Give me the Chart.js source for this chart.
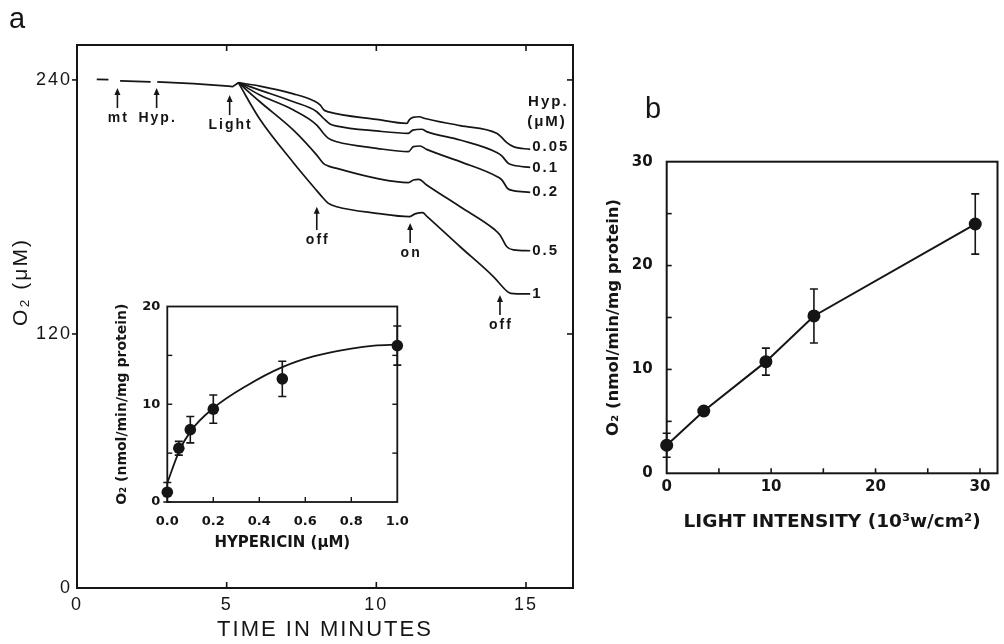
<!DOCTYPE html>
<html><head><meta charset="utf-8">
<script src="https://cdn.jsdelivr.net/npm/chart.js@4/dist/chart.umd.min.js"></script>
<style>
html,body{margin:0;padding:0;background:#fff;}
#wrap{position:relative;width:1004px;height:644px;overflow:hidden;background:#fff;}
canvas{position:absolute;left:0;top:0;}
</style></head><body>
<div id="wrap">
<canvas id="main" width="1004" height="644"></canvas>
<canvas id="inset" width="1004" height="644"></canvas>
<canvas id="light" width="1004" height="644"></canvas>
</div>
<script>
// ---------- Panel a: O2 traces (time in min, O2 in uM) ----------
const baseTime = [0.66, 1.05, 1.24, 1.44, 2.46, 2.57, 2.68, 3.89, 5.06, 5.20, 5.39];
const baseO2   = [240.3, 240.1, null, 239.6, 239.1, null, 239.1, 238.3, 237.1, 236.8, 238.7];

const t005Time = [5.39, 6.11, 7.23, 7.90, 8.12, 8.25, 8.40, 10.01, 11.02, 11.10, 11.22, 11.44, 11.59, 12.80, 14.02, 14.16, 14.36, 14.58, 15.14];
const t005O2   = [238.7, 237.1, 233.4, 230.2, 228.2, 225.8, 224.9, 221.4, 219.5, 221.1, 222.3, 222.6, 221.9, 218.4, 214.8, 213.2, 210.4, 208.5, 207.2];

const t01Time = [5.39, 6.11, 7.23, 8.01, 8.23, 8.45, 8.68, 10.01, 11.07, 11.22, 11.52, 11.68, 12.80, 14.04, 14.19, 14.41, 14.58, 15.14];
const t01O2   = [238.7, 235.2, 229.7, 225.0, 221.9, 219.2, 218.2, 215.9, 214.8, 216.3, 216.7, 215.6, 211.6, 205.6, 204.1, 200.6, 199.7, 198.7];

const t02Time = [5.39, 6.11, 7.23, 8.01, 8.23, 8.40, 8.68, 10.01, 11.07, 11.24, 11.46, 11.68, 12.80, 14.04, 14.20, 14.38, 14.58, 15.14];
const t02O2   = [238.7, 232.9, 225.8, 218.7, 214.8, 212.4, 210.8, 207.7, 206.1, 208.5, 208.8, 207.2, 201.4, 194.3, 192.7, 188.8, 187.7, 186.9];

const t05Time = [5.39, 6.11, 7.23, 8.01, 8.23, 8.40, 8.68, 10.01, 11.07, 11.24, 11.42, 11.68, 12.80, 13.97, 14.13, 14.36, 14.58, 15.14];
const t05O2   = [238.7, 229.7, 216.3, 204.5, 200.6, 199.3, 198.2, 193.5, 191.5, 192.7, 193.0, 190.4, 180.1, 169.1, 166.8, 161.2, 159.7, 159.3];

const t1Time = [5.39, 6.11, 7.23, 8.01, 8.23, 8.40, 8.68, 10.01, 11.10, 11.29, 11.55, 11.68, 12.80, 13.91, 14.38, 14.49, 15.14];
const t1O2   = [238.7, 221.4, 200.9, 187.7, 184.1, 181.7, 180.1, 177.0, 175.4, 176.7, 177.3, 175.7, 161.2, 147.1, 140.0, 139.2, 138.9];

const traceLabels = ['0.05', '0.1', '0.2', '0.5', '1'];

// event arrows
const annotText   = ['mt', 'Hyp.', 'Light', 'off', 'on', 'off'];
const annotTime   = [1.35, 2.66, 5.10, 8.01, 11.13, 14.13];
const annotTop    = [236.2, 236.2, 232.9, 180.1, 172.4, 138.4];
const annotBottom = [226.7, 226.7, 223.4, 169.1, 163.0, 129.0];

const mainTimeTicks = [0, 5, 10, 15];
const mainO2Ticks   = [0, 120, 240];

// ---------- Inset: rate vs hypericin ----------
const hypConc = [0, 0.05, 0.1, 0.2, 0.5, 1.0];
const hypRate = [1.0, 5.5, 7.4, 9.5, 12.6, 16.0];
const hypErr  = [1.0, 0.7, 1.35, 1.45, 1.8, 2.0];
const hypFitConc = [0, 0.05, 0.1, 0.2, 0.345, 0.5, 0.635, 0.8, 0.9, 1.0];
const hypFitRate = [1.95, 5.1, 7.2, 9.6, 11.9, 13.8, 14.9, 15.7, 16.0, 16.1];
const insetConcTicks = [0, 0.2, 0.4, 0.6, 0.8, 1.0];
const insetRateTicks = [0, 10, 20];
const insetMinorConc = [0.2, 0.4, 0.6, 0.8];
const insetMinorRate = [5, 10, 15];

// ---------- Panel b: rate vs light intensity ----------
const lightInt  = [0, 3.55, 9.5, 14.1, 29.55];
const lightRate = [2.7, 6.0, 10.75, 15.15, 24.0];
const lightErr  = [1.15, 0, 1.3, 2.6, 2.9];
const lightIntTicks  = [0, 10, 20, 30];
const lightRateTicks = [0, 10, 20, 30];
const lightMinorInt  = [5, 10, 15, 20, 25, 30];
const lightMinorRate = [5, 10, 15, 20, 25];

const INK = '#151515';
const pts = (xs, ys) => xs.map((x, i) => ({x, y: ys[i]}));
const setTicks = arr => s => { s.ticks = arr.map(v => ({value: v})); };
const noGrid = {display: false, drawTicks: false};

// frame + inward ticks
Chart.register({
  id: 'frame',
  afterDatasetsDraw(chart, args, opts) {
    if (!opts || !opts.on) return;
    const {ctx, chartArea: a, scales} = chart;
    ctx.save();
    ctx.strokeStyle = INK; ctx.lineWidth = opts.lw || 2;
    ctx.strokeRect(a.left, a.top, a.right - a.left, a.bottom - a.top);
    ctx.lineWidth = opts.tw || 1.6;
    (opts.ticks || []).forEach(t => {
      const sc = scales[t.axis];
      t.values.forEach(v => {
        const p = sc.getPixelForValue(v);
        ctx.beginPath();
        if (t.side === 'bottom') { ctx.moveTo(p, a.bottom); ctx.lineTo(p, a.bottom - t.len); }
        else if (t.side === 'top') { ctx.moveTo(p, a.top); ctx.lineTo(p, a.top + t.len); }
        else if (t.side === 'left') { ctx.moveTo(a.left, p); ctx.lineTo(a.left + t.len, p); }
        else { ctx.moveTo(a.right, p); ctx.lineTo(a.right - t.len, p); }
        ctx.stroke();
      });
    });
    ctx.restore();
  }
});

// error bars
Chart.register({
  id: 'errorBars',
  beforeDatasetsDraw(chart) {
    const {ctx, scales: {y}} = chart;
    chart.data.datasets.forEach((ds, di) => {
      if (!ds.errors) return;
      const meta = chart.getDatasetMeta(di);
      ctx.save();
      ctx.strokeStyle = INK; ctx.lineWidth = 1.6;
      meta.data.forEach((el, i) => {
        const e = ds.errors[i]; if (!e) return;
        const v = ds.data[i].y;
        const t = y.getPixelForValue(v + e), b = y.getPixelForValue(v - e);
        const w = ds.capHalf || 4;
        ctx.beginPath();
        ctx.moveTo(el.x, t); ctx.lineTo(el.x, b);
        ctx.moveTo(el.x - w, t); ctx.lineTo(el.x + w, t);
        ctx.moveTo(el.x - w, b); ctx.lineTo(el.x + w, b);
        ctx.stroke();
      });
      ctx.restore();
    });
  }
});

const common = {
  responsive: false, animation: false, events: [],
  plugins: {legend: {display: false}, tooltip: {enabled: false}}
};

// ================= MAIN (panel a) =================
const mainFont = {family: "'Liberation Sans', Arial, sans-serif", size: 18};
const traceStyle = {borderColor: INK, borderWidth: 1.7, pointRadius: 0, cubicInterpolationMode: 'monotone', fill: false};
new Chart(document.getElementById('main'), {
  type: 'line',
  data: {datasets: [
    Object.assign({data: pts(baseTime, baseO2), spanGaps: false}, traceStyle, {cubicInterpolationMode: 'default', tension: 0}),
    Object.assign({data: pts(t005Time, t005O2)}, traceStyle),
    Object.assign({data: pts(t01Time, t01O2)}, traceStyle),
    Object.assign({data: pts(t02Time, t02O2)}, traceStyle),
    Object.assign({data: pts(t05Time, t05O2)}, traceStyle),
    Object.assign({data: pts(t1Time, t1O2)}, traceStyle)
  ]},
  options: Object.assign({}, common, {
    layout: {padding: {left: 0, top: 45, right: 431, bottom: 0}},
    plugins: Object.assign({}, common.plugins, {
      frame: {on: true, lw: 2, tw: 1.6, ticks: [
        {axis: 'x', side: 'bottom', values: [5, 10, 15], len: 6},
        {axis: 'x', side: 'top', values: [5, 10, 15], len: 6},
        {axis: 'y', side: 'right', values: [120, 240], len: 6},
        {axis: 'y', side: 'left', values: [120, 240], len: -5}
      ]}
    }),
    scales: {
      x: {type: 'linear', min: 0, max: 16.57,
        afterBuildTicks: setTicks(mainTimeTicks), afterFit: s => { s.height = 56; },
        grid: noGrid, border: {display: false},
        ticks: {padding: 6, color: INK, font: mainFont},
        title: {display: true, text: 'TIME IN MINUTES', color: INK,
          font: {family: mainFont.family, size: 22}, padding: {top: 0, bottom: 1}}},
      y: {type: 'linear', min: 0, max: 256.5,
        afterBuildTicks: setTicks(mainO2Ticks), afterFit: s => { s.width = 77; },
        grid: noGrid, border: {display: false},
        ticks: {padding: 5, color: INK, font: mainFont}}
    }
  }),
  plugins: [{
    id: 'mainNotes',
    beforeDraw(chart) { chart.ctx.letterSpacing = '2px'; },
    afterDraw(chart) {
      const {ctx, scales: {x, y}} = chart;
      ctx.save();
      ctx.fillStyle = INK; ctx.strokeStyle = INK; ctx.lineWidth = 1.6;
      ctx.letterSpacing = '2px';
      // arrows + labels
      ctx.font = "bold 14px 'Liberation Sans', Arial, sans-serif";
      ctx.textAlign = 'center'; ctx.textBaseline = 'middle';
      annotText.forEach((t, i) => {
        const px = x.getPixelForValue(annotTime[i]);
        const pt = y.getPixelForValue(annotTop[i]);
        const pb = y.getPixelForValue(annotBottom[i]);
        ctx.beginPath(); ctx.moveTo(px, pb); ctx.lineTo(px, pt + 5); ctx.stroke();
        ctx.beginPath(); ctx.moveTo(px, pt); ctx.lineTo(px - 3, pt + 7); ctx.lineTo(px + 3, pt + 7); ctx.closePath(); ctx.fill();
        ctx.fillText(t, px + 1, pb + 10);
      });
      // concentration labels at trace ends
      ctx.font = "bold 15px 'Liberation Sans', Arial, sans-serif";
      ctx.textAlign = 'left';
      chart.data.datasets.slice(1).forEach((ds, i) => {
        const last = ds.data[ds.data.length - 1];
        const px = x.getPixelForValue(last.x), py = y.getPixelForValue(last.y);
        ctx.fillText(traceLabels[i], px + 2, py - (i === 0 ? 3 : 0));
      });
      ctx.fillText('Hyp.', x.getPixelForValue(15.07), y.getPixelForValue(229.6));
      ctx.fillText('(\u03BCM)', x.getPixelForValue(15.04), y.getPixelForValue(220.1));
      // y-axis title
      ctx.font = "21px 'Liberation Sans', Arial, sans-serif";
      ctx.translate(21, 282); ctx.rotate(-Math.PI / 2);
      ctx.textAlign = 'center';
      ctx.fillText('O\u2082 (\u03BCM)', 0, 0);
      ctx.restore();
      // panel letter
      ctx.save();
      ctx.fillStyle = INK; ctx.letterSpacing = '0px';
      ctx.font = "29px 'Liberation Sans', Arial, sans-serif";
      ctx.textAlign = 'center'; ctx.textBaseline = 'alphabetic';
      ctx.fillText('a', 17, 28);
      ctx.restore();
      ctx.letterSpacing = '0px';
    }
  }]
});

// ================= INSET =================
const insetFont = {family: "'DejaVu Sans', sans-serif", size: 13, weight: 'bold'};
new Chart(document.getElementById('inset'), {
  type: 'line',
  data: {datasets: [
    {data: pts(hypFitConc, hypFitRate), borderColor: INK, borderWidth: 1.8, pointRadius: 0, cubicInterpolationMode: 'monotone', clip: false},
    {data: pts(hypConc, hypRate), showLine: false, pointRadius: 5.8, pointBackgroundColor: INK, pointBorderColor: INK, pointBorderWidth: 0, errors: hypErr, capHalf: 4, clip: false}
  ]},
  options: Object.assign({}, common, {
    layout: {padding: {left: 111.6, top: 306.5, right: 606.7, bottom: 89.5}},
    plugins: Object.assign({}, common.plugins, {
      frame: {on: true, lw: 1.8, tw: 1.4, ticks: [
        {axis: 'x', side: 'bottom', values: insetMinorConc, len: 5},
        {axis: 'y', side: 'left', values: insetMinorRate, len: 5},
        {axis: 'y', side: 'right', values: insetMinorRate, len: 5}
      ]}
    }),
    scales: {
      x: {type: 'linear', min: 0, max: 1,
        afterBuildTicks: setTicks(insetConcTicks), afterFit: s => { s.height = 52.5; },
        grid: noGrid, border: {display: false},
        ticks: {padding: 12, color: INK, font: insetFont, callback: v => Number(v).toFixed(1)},
        title: {display: true, text: 'HYPERICIN (\u03BCM)', color: INK,
          font: {family: insetFont.family, size: 15, weight: 'bold'}, padding: {top: 0, bottom: 2}}},
      y: {type: 'linear', min: 0, max: 20,
        afterBuildTicks: setTicks(insetRateTicks), afterFit: s => { s.width = 55.7; },
        grid: noGrid, border: {display: false},
        ticks: {padding: 7, color: INK, font: insetFont},
        title: {display: true, text: 'O\u2082 (nmol/min/mg protein)', color: INK,
          font: {family: insetFont.family, size: 14, weight: 'bold'}, padding: {top: 2, bottom: 0}}}
    }
  })
});

// ================= PANEL b =================
const bFont = {family: "'DejaVu Sans', sans-serif", size: 15, weight: 'bold'};
new Chart(document.getElementById('light'), {
  type: 'line',
  data: {datasets: [
    {data: pts(lightInt, lightRate), borderColor: INK, borderWidth: 2, tension: 0,
     pointRadius: 6.5, pointBackgroundColor: INK, pointBorderColor: INK, pointBorderWidth: 0,
     errors: lightErr, capHalf: 4, clip: false}
  ]},
  options: Object.assign({}, common, {
    layout: {padding: {left: 602.1, top: 161.7, right: 4, bottom: 108.9}},
    plugins: Object.assign({}, common.plugins, {
      frame: {on: true, lw: 2, tw: 1.6, ticks: [
        {axis: 'x', side: 'bottom', values: lightMinorInt, len: 5},
        {axis: 'y', side: 'left', values: lightMinorRate, len: 5}
      ]}
    }),
    scales: {
      x: {type: 'linear', min: 0, max: 31.68,
        afterBuildTicks: setTicks(lightIntTicks), afterFit: s => { s.height = 61.8; },
        grid: noGrid, border: {display: false},
        ticks: {padding: 5, color: INK, font: bFont},
        title: {display: true, text: 'LIGHT INTENSITY (10\u00B3w/cm\u00B2)', color: INK,
          font: {family: bFont.family, size: 18.5, weight: 'bold'}, padding: {top: 0, bottom: 2}}},
      y: {type: 'linear', min: 0, max: 30,
        afterBuildTicks: setTicks(lightRateTicks), afterFit: s => { s.width = 64.6; },
        grid: noGrid, border: {display: false},
        ticks: {padding: 14, color: INK, font: bFont},
        title: {display: true, text: 'O\u2082 (nmol/min/mg protein)', color: INK,
          font: {family: bFont.family, size: 16.5, weight: 'bold'}, padding: {top: 2, bottom: 0}}}
    }
  }),
  plugins: [{
    id: 'bLetter',
    afterDraw(chart) {
      const ctx = chart.ctx;
      ctx.save();
      ctx.fillStyle = INK;
      ctx.font = "29px 'Liberation Sans', Arial, sans-serif";
      ctx.textAlign = 'center'; ctx.textBaseline = 'alphabetic';
      ctx.fillText('b', 653, 118);
      ctx.restore();
    }
  }]
});
</script>
</body></html>
